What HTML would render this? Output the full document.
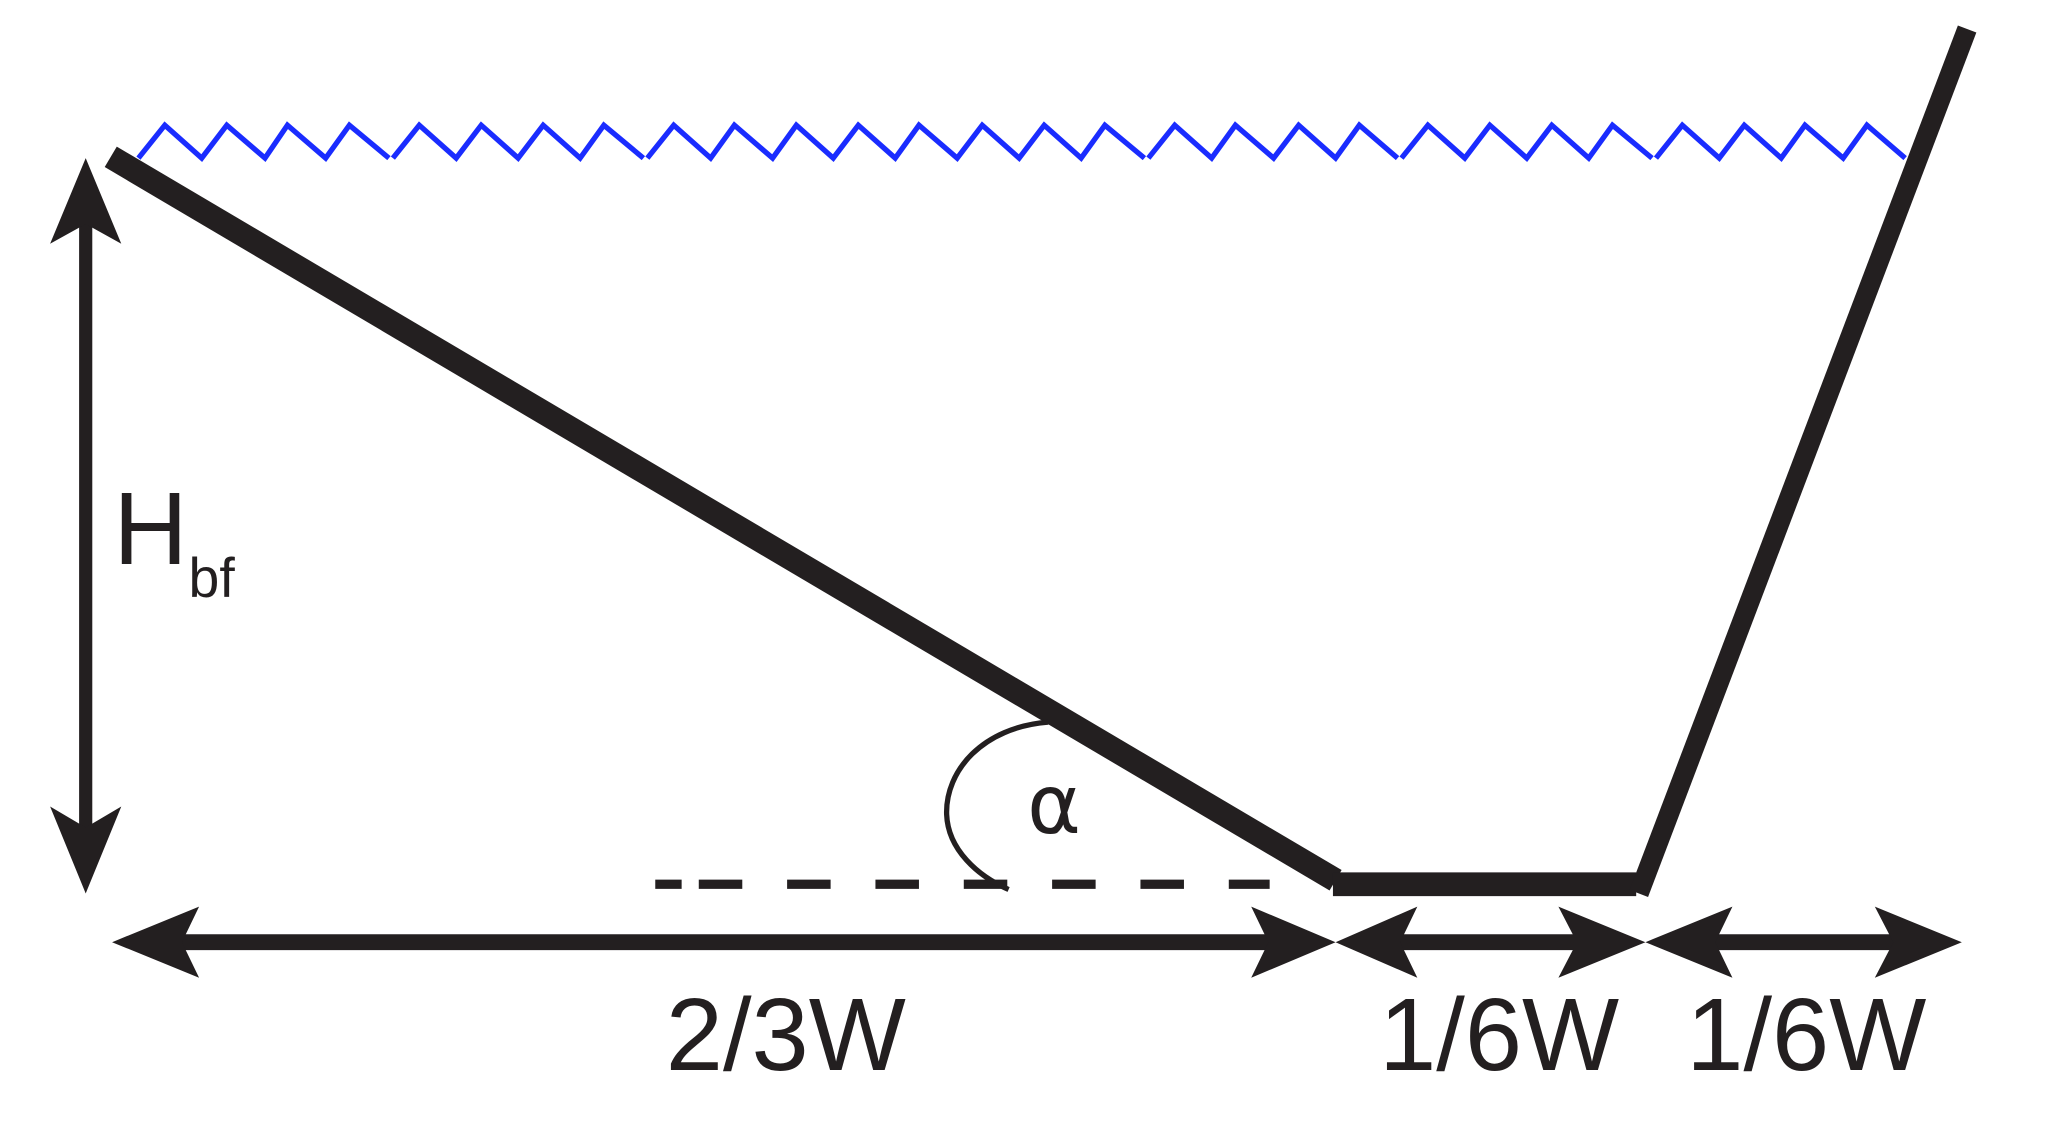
<!DOCTYPE html>
<html><head><meta charset="utf-8"><style>html,body{margin:0;padding:0;background:#fff}svg{display:block}</style></head>
<body>
<svg width="2066" height="1128" viewBox="0 0 1567 856" preserveAspectRatio="none" xmlns="http://www.w3.org/2000/svg">
<g fill="none" stroke="#1a2cff" stroke-width="4">
<polyline points="105,120 125,95 153,120 172,95 201,120 218,95 247,120 265,95 295,120"/>
<polyline points="298,120 318,95 346,120 365,95 393,120 412,95 440,120 458,95 488,120"/>
<polyline points="491,120 511,95 539,120 557,95 586,120 604,95 632,120 651,95 679,120 697,95 726,120 745,95 773,120 792,95 820,120 838,95 868,120"/>
<polyline points="871,120 891,95 919,120 937,95 966,120 985,95 1013,120 1031,95 1060,120"/>
<polyline points="1063,120 1083,95 1111,120 1130,95 1158,120 1177,95 1205,120 1223,95 1253,120"/>
<polyline points="1256,120 1276,95 1304,120 1323,95 1351,120 1369,95 1398,120 1416,95 1445,120"/>
</g>
<g stroke="#231f20" fill="none">
<line x1="84" y1="119" x2="1013" y2="668" stroke-width="18"/>
<line x1="1011" y1="671" x2="1241" y2="671" stroke-width="18"/>
<line x1="1243" y1="678" x2="1492" y2="22" stroke-width="15"/>
<line x1="65" y1="160" x2="65" y2="640" stroke-width="10"/>
<line x1="130" y1="715" x2="970" y2="715" stroke-width="12"/>
<line x1="1050" y1="715" x2="1210" y2="715" stroke-width="12"/>
<line x1="1290" y1="715" x2="1450" y2="715" stroke-width="12"/>
<line x1="497" y1="671" x2="517" y2="671" stroke-width="7"/>
<line x1="530" y1="671" x2="963" y2="671" stroke-width="7" stroke-dasharray="33,34"/>
<path d="M795,548 C745,552 717,585 718,618 C719,645 742,665 765,675" stroke-width="4"/>
</g>
<g fill="#231f20">
<polygon points="65,120 92,185 65,170 38,185"/>
<polygon points="65,678 92,612 65,628 38,612"/>
<polygon points="85,715 151,688 138,715 151,742"/>
<polygon points="1013,715 949,688 962,715 949,742"/>
<polygon points="1013,715 1075,688 1062,715 1075,742"/>
<polygon points="1248,715 1182,688 1196,715 1182,742"/>
<polygon points="1248,715 1314,688 1301,715 1314,742"/>
<polygon points="1488,715 1422,688 1436,715 1422,742"/>
</g>
<g fill="#231f20" font-family="'Liberation Sans',sans-serif">
<text x="86" y="428" font-size="78">H</text>
<text x="143" y="453" font-size="42">bf</text>
<text x="779" y="632" font-size="62" font-family="'DejaVu Sans',sans-serif">α</text>
<text x="505" y="812" font-size="78">2/3W</text>
<text x="1046" y="812" font-size="78">1/6W</text>
<text x="1279" y="812" font-size="78">1/6W</text>
</g>
</svg>
</body></html>
